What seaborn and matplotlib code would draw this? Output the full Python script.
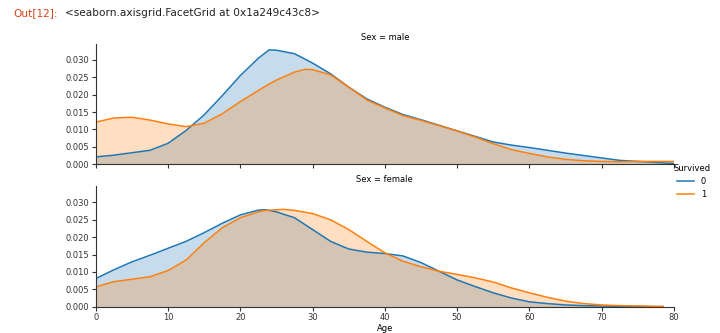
import matplotlib
matplotlib.use("Agg")
import matplotlib.pyplot as plt
import numpy as np
import pandas as pd
import seaborn as sns

# ---- data (KDE curves of Age) ----
male_ages = [0, 2.5, 5, 7.5, 10, 12.5, 15, 17.5, 20, 22.5, 24, 25, 27.5, 29,
             30, 32.5, 35, 37.5, 40, 42.5, 45, 47.5, 50, 52.5, 55, 57.5, 60,
             62.5, 65, 67.5, 70, 72.5, 75, 77.5, 80]
male_died = [0.0021, 0.0026, 0.0033, 0.0040, 0.0060, 0.0097, 0.0142, 0.0197,
             0.0255, 0.0305, 0.0329, 0.0328, 0.0318, 0.0302, 0.0291, 0.0260,
             0.0222, 0.0188, 0.0164, 0.0143, 0.0128, 0.0112, 0.0096, 0.0080,
             0.0064, 0.0055, 0.0048, 0.0040, 0.0032, 0.0025, 0.0018, 0.0011,
             0.0008, 0.0005, 0.0002]
male_survived = [0.0121, 0.0133, 0.0135, 0.0127, 0.0116, 0.0108, 0.0118,
                 0.0145, 0.0180, 0.0212, 0.0231, 0.0242, 0.0265, 0.0273,
                 0.0272, 0.0257, 0.0222, 0.0185, 0.0162, 0.0140, 0.0126,
                 0.0111, 0.0096, 0.0078, 0.0059, 0.0042, 0.0031, 0.0021,
                 0.0014, 0.0010, 0.0008, 0.0007, 0.0008, 0.0008, 0.0008]

female_ages = [0, 2.5, 5, 7.5, 10, 12.5, 15, 17.5, 20, 22.5, 23.5, 25, 26,
               27.5, 30, 32.5, 35, 37.5, 40, 42.5, 45, 47.5, 50, 52.5, 55,
               57.5, 60, 62.5, 65, 67.5, 70, 72.5, 75, 77.5, 78.5]
female_died = [0.0081, 0.0106, 0.0129, 0.0148, 0.0168, 0.0188, 0.0213, 0.0240,
               0.0264, 0.0278, 0.0279, 0.0273, 0.0266, 0.0256, 0.0222, 0.0188,
               0.0166, 0.0157, 0.0153, 0.0146, 0.0127, 0.0102, 0.0077, 0.0058,
               0.0040, 0.0025, 0.0014, 0.0009, 0.0005, 0.0003, 0.0002, 0.0001,
               0.0001, 0.0000, 0.0000]
female_survived = [0.0057, 0.0072, 0.0079, 0.0086, 0.0104, 0.0134, 0.0184,
                   0.0227, 0.0256, 0.0273, 0.0277, 0.0279, 0.0280, 0.0277,
                   0.0268, 0.0250, 0.0222, 0.0188, 0.0155, 0.0131, 0.0115,
                   0.0102, 0.0093, 0.0083, 0.0071, 0.0054, 0.0040, 0.0027,
                   0.0016, 0.0009, 0.0005, 0.0003, 0.0002, 0.0001, 0.0001]

sexes = ["male", "female"]
survived_levels = [0, 1]
x_ticks = [0, 10, 20, 30, 40, 50, 60, 70, 80]
y_ticks = [0.000, 0.005, 0.010, 0.015, 0.020, 0.025, 0.030]

# ---- long-form table ----
frames = []
for sex, ages, died, surv in [("male", male_ages, male_died, male_survived),
                              ("female", female_ages, female_died, female_survived)]:
    frames.append(pd.DataFrame({"Sex": sex, "Survived": 0, "Age": ages, "Density": died}))
    frames.append(pd.DataFrame({"Sex": sex, "Survived": 1, "Age": ages, "Density": surv}))
df = pd.concat(frames, ignore_index=True)

plt.rcParams["font.family"] = ["DejaVu Sans"]
plt.rcParams["font.size"] = 6
plt.rcParams["xtick.labelsize"] = 6
plt.rcParams["ytick.labelsize"] = 6
plt.rcParams["axes.labelsize"] = 6
plt.rcParams["xtick.major.size"] = 3
plt.rcParams["ytick.major.size"] = 3
plt.rcParams["xtick.major.pad"] = 1.5
plt.rcParams["ytick.major.pad"] = 2
plt.rcParams["axes.labelpad"] = 1.5
plt.rcParams["axes.titlepad"] = 3
plt.rcParams["axes.edgecolor"] = "#333333"
plt.rcParams["xtick.color"] = "#333333"
plt.rcParams["ytick.color"] = "#333333"

g = sns.FacetGrid(df, row="Sex", row_order=sexes, hue="Survived",
                  hue_order=survived_levels, height=1.5, aspect=4.5)


def shade(x, y, color=None, label=None, **kw):
    plt.fill_between(x, y, color=color, alpha=0.25, linewidth=0, label=label)


g.map(shade, "Age", "Density")
g.map(plt.plot, "Age", "Density", lw=1.1)
g.set(xlim=(0, 80), ylim=(0, 0.0346), xticks=x_ticks, yticks=y_ticks)
g.set_titles("{row_var} = {row_name}", size=6)
g.set_axis_labels("Age", "")
for ax in g.axes.flat:
    ax.set_yticklabels([f"{t:.3f}" for t in y_ticks])
    ax.tick_params(width=0.8)
    for s in ["left", "bottom"]:
        ax.spines[s].set_linewidth(0.8)
g.add_legend(title="Survived", fontsize=6)

fig = g.figure
fig.set_size_inches(7.2, 3.33)
fig.subplots_adjust(left=0.133, right=0.936, top=0.868, bottom=0.079, hspace=0.185)
g._legend.set_bbox_to_anchor((0.997, 0.455), transform=fig.transFigure)

fig.text(0.018, 0.962, "Out[12]:", color="#D84315", fontsize=7.6, va="center")
fig.text(0.090, 0.962, "<seaborn.axisgrid.FacetGrid at 0x1a249c43c8>",
         color="#222222", fontsize=7.6, va="center")

fig.savefig("out.png", dpi=100)
